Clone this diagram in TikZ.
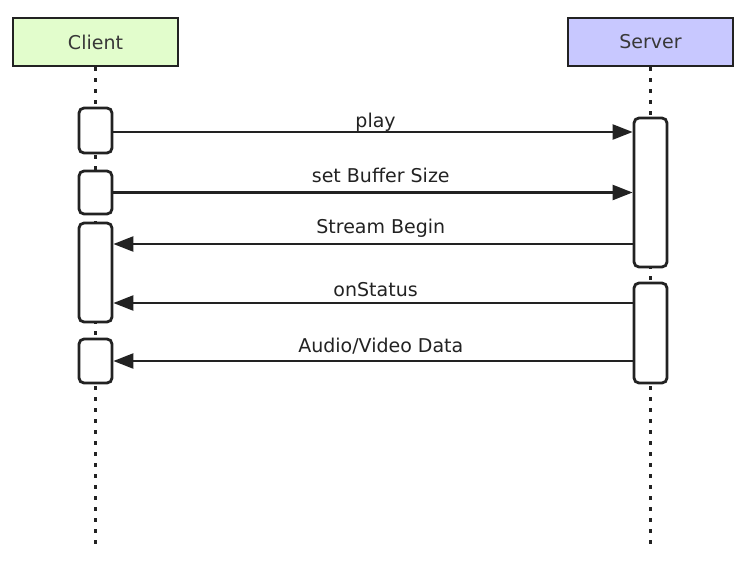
\documentclass[tikz,border=0pt]{standalone}
\usepackage{fontspec}
\setmainfont{DejaVu Sans}
\usetikzlibrary{arrows.meta}
\definecolor{clientgreen}{RGB}{226,253,204}
\definecolor{serverblue}{RGB}{200,200,255}
\definecolor{ink}{RGB}{34,34,34}
\tikzset{
  actor/.style={draw=ink, line width=2.8pt, minimum width=165pt, minimum height=48pt, inner sep=0pt, text=ink!90},
  act/.style={draw=ink, line width=2.8pt, fill=white, rounded corners=5pt, minimum width=33pt, inner sep=0pt},
  msg/.style={-{Triangle[length=20pt,width=15pt]}, line width=2.4pt, draw=ink},
  lbl/.style={anchor=base, inner sep=0pt, text=ink},
  life/.style={ink, line width=3pt, dash pattern=on 4pt off 7pt}
}
\begin{document}
\begin{tikzpicture}[x=1pt, y=-1pt, font=\fontsize{19}{22}\selectfont]
        \useasboundingbox (0,0) rectangle (754,571);
        \node[actor, fill=clientgreen] (client) at (95.5,42) {Client};
        \node[actor, fill=serverblue] (server) at (650.5,42) {Server};
        \coordinate (bottom) at (0,548);
        \draw[life] (client.south) -- (client.south |- bottom);
        \draw[life] (server.south) -- (server.south |- bottom);
        \node[act, minimum height=45pt] (c1) at (95.5,130.5) {};
        \node[act, minimum height=43pt] (c2) at (95.5,192.5) {};
        \node[act, minimum height=99pt] (c3) at (95.5,272.5) {};
        \node[act, minimum height=44pt] (c4) at (95.5,361) {};
        \node[act, minimum height=149pt] (s1) at (650.5,192.5) {};
        \node[act, minimum height=100pt] (s2) at (650.5,333) {};
        \coordinate (m1) at (0,132);
        \coordinate (m3) at (0,244);
        \coordinate (m4) at (0,303);
        \draw[msg] (c1.east |- m1) -- (s1.west |- m1) node[pos=0.505, lbl, yshift=5pt] (play) {play};
        \draw[msg] (c2.east) -- (c2.east -| s1.west) node[pos=0.515, lbl, yshift=10pt] (buf) {set Buffer Size};
        \draw[msg] (s1.west |- m3) -- (c3.east |- m3) node[pos=0.485, lbl, yshift=11pt] (begin) {Stream Begin};
        \draw[msg] (s2.west |- m4) -- (c3.east |- m4) node[pos=0.495, lbl, yshift=7pt] (status) {onStatus};
        \draw[msg] (c4.east -| s2.west) -- (c4.east) node[pos=0.485, lbl, yshift=9pt] (data) {Audio/Video Data};
\end{tikzpicture}
\end{document}
